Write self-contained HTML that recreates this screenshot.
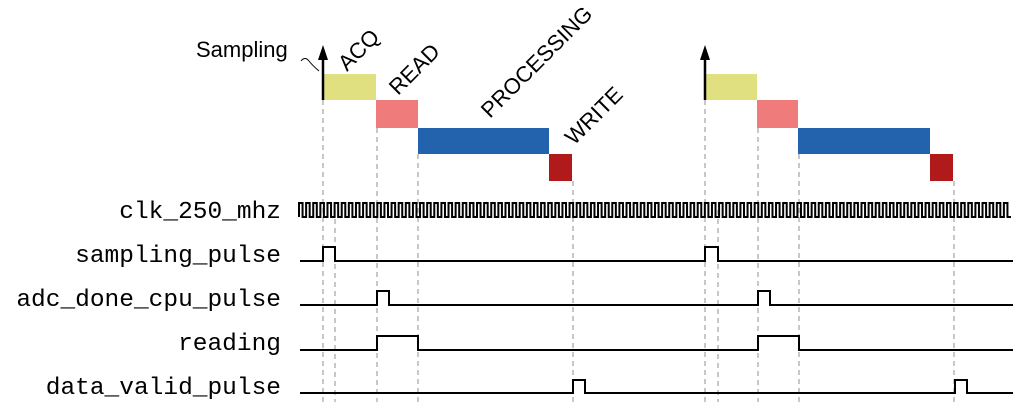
<!DOCTYPE html>
<html><head><meta charset="utf-8"><style>
html,body{margin:0;padding:0;background:#fff;}
svg{display:block;}
.m{font-family:"Liberation Mono",monospace;font-size:24.5px;fill:#000;}
.s{font-family:"Liberation Sans",sans-serif;font-size:22px;fill:#000;}
</style></head><body>
<svg width="1024" height="416" viewBox="0 0 1024 416" xmlns="http://www.w3.org/2000/svg">
<g stroke="#aaa" stroke-width="1.3" stroke-dasharray="5,4" fill="none">
<line x1="323" y1="100" x2="323" y2="402"/>
<line x1="335" y1="210" x2="335" y2="402"/>
<line x1="377" y1="128" x2="377" y2="402"/>
<line x1="418" y1="154" x2="418" y2="402"/>
<line x1="573" y1="181" x2="573" y2="402"/>
<line x1="705" y1="100" x2="705" y2="402"/>
<line x1="718" y1="210" x2="718" y2="402"/>
<line x1="758" y1="128" x2="758" y2="402"/>
<line x1="799" y1="154" x2="799" y2="402"/>
<line x1="954" y1="181" x2="954" y2="402"/>
</g>
<rect x="323" y="74" width="53" height="26" fill="#e0e080"/>
<rect x="376" y="100" width="42" height="28" fill="#f07b7b"/>
<rect x="418" y="128" width="131" height="26" fill="#2363ad"/>
<rect x="549" y="154" width="23" height="27" fill="#b11a1a"/>
<rect x="705" y="74" width="52" height="26" fill="#e0e080"/>
<rect x="757" y="100" width="41" height="28" fill="#f07b7b"/>
<rect x="798" y="128" width="132" height="26" fill="#2363ad"/>
<rect x="930" y="154" width="23" height="27" fill="#b11a1a"/>
<g stroke="#000" stroke-width="2.5">
<line x1="323" y1="100" x2="323" y2="58"/>
<line x1="705" y1="100" x2="705" y2="58"/>
</g>
<polygon points="318,60 328,60 323,45" fill="#000"/>
<polygon points="700,60 710,60 705,45" fill="#000"/>
<path d="M301,61 q4,-5 8,0 t10,10" stroke="#000" stroke-width="1" fill="none"/>
<text class="s" x="196" y="57">Sampling</text>
<text class="s" transform="translate(347,72) rotate(-45)">ACQ</text>
<text class="s" transform="translate(398,96) rotate(-45)">READ</text>
<text class="s" transform="translate(490,119) rotate(-45)">PROCESSING</text>
<text class="s" transform="translate(574,146) rotate(-45)">WRITE</text>
<g class="m" text-anchor="end">
<text x="281" y="218">clk_250_mhz</text>
<text x="281" y="262">sampling_pulse</text>
<text x="281" y="306">adc_done_cpu_pulse</text>
<text x="281" y="350">reading</text>
<text x="281" y="394">data_valid_pulse</text>
</g>
<g stroke="#000" stroke-width="2" fill="none" stroke-linejoin="miter">
<path id="clk" d=""/>
<path d="M300,261 H323 V247 H335 V261 H705 V247 H718 V261 H1013"/>
<path d="M300,305 H377 V291 H389 V305 H758 V291 H770 V305 H1013"/>
<path d="M300,350 H377 V336 H418 V350 H758 V336 H799 V350 H1013"/>
<path d="M300,393 H573 V380 H585 V393 H955 V380 H967 V393 H1013"/>
</g>
</svg>
<script>
(function(){var d="M299,217",x=299,p=7.12;for(var i=0;i<100;i++){var a=x+i*p;d+=" V203 H"+(a+p/2).toFixed(2)+" V217 H"+(a+p).toFixed(2);}document.getElementById('clk').setAttribute('d',d);})();
</script>
</body></html>
